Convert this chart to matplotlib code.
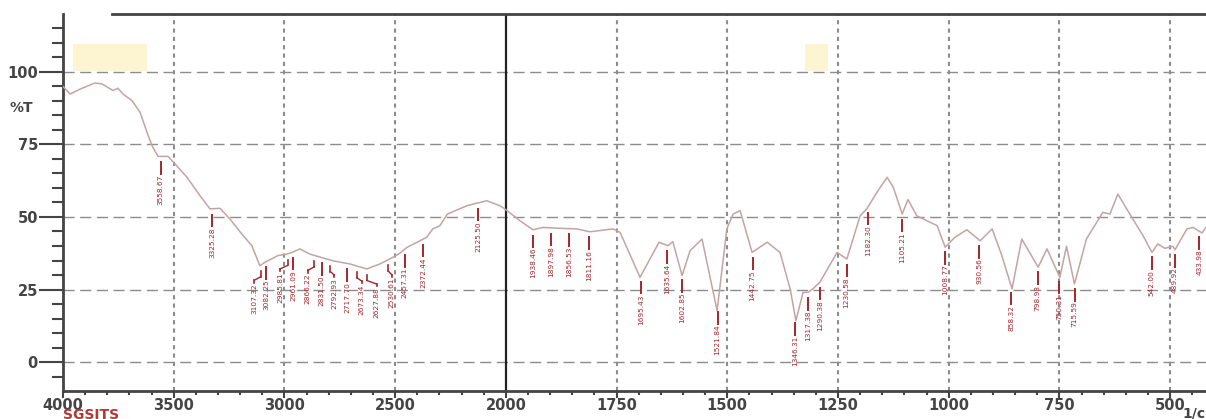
import numpy as np
import matplotlib
matplotlib.use("Agg")
import matplotlib.pyplot as plt
import matplotlib.transforms as mtrans
from matplotlib.patches import Rectangle

# spectrum (wavenumber 1/cm, %T)
wavenumber = [4000, 3968, 3923, 3856, 3824, 3774, 3752, 3729, 3688, 3652, 3621, 3598,
              3571, 3526, 3494, 3440, 3381, 3336, 3291, 3246, 3192, 3147, 3111, 3088,
              3029, 2989, 2962, 2930, 2885, 2781, 2704, 2628, 2569, 2510, 2479, 2447,
              2388, 2357, 2330, 2298, 2264, 2176, 2086, 2027, 2005, 1968, 1939, 1916,
              1878, 1840, 1810, 1758, 1742, 1697, 1654, 1634, 1623, 1602, 1584, 1557,
              1523, 1501, 1487, 1471, 1444, 1410, 1381, 1358, 1345, 1329, 1318, 1307,
              1291, 1252, 1230, 1200, 1185, 1162, 1139, 1125, 1105, 1092, 1072, 1026,
              1008, 986, 959, 929, 902, 880, 857, 835, 798, 778, 749, 734, 716, 689,
              652, 636, 618, 591, 561, 541, 528, 512, 494, 489, 462, 448, 428, 419]
transmittance = [95.0, 92.4, 94.1, 96.2, 95.9, 93.6, 94.4, 92.4, 90.1, 86.1, 79.3, 74.6,
                 70.9, 70.9, 68.3, 63.7, 57.3, 52.8, 53.0, 49.3, 44.1, 40.1, 33.2, 34.4,
                 36.7, 37.2, 37.9, 39.0, 37.2, 34.9, 33.8, 32.1, 33.8, 36.1, 37.5, 39.5,
                 41.8, 43.0, 45.9, 47.0, 51.0, 53.9, 55.6, 53.9, 52.8, 48.7, 45.6, 46.4,
                 46.1, 45.9, 44.9, 45.9, 44.7, 29.2, 41.3, 40.1, 41.5, 29.8, 38.4, 42.4,
                 17.7, 45.9, 51.0, 52.2, 37.8, 41.3, 37.8, 25.2, 14.2, 24.0, 24.0, 25.2,
                 27.5, 37.8, 35.5, 50.4, 52.8, 58.5, 63.7, 60.2, 51.0, 56.0, 50.4, 47.0,
                 39.6, 43.0, 45.6, 41.8, 45.9, 36.7, 25.2, 42.4, 32.7, 39.0, 29.2, 39.9,
                 26.9, 42.4, 51.6, 51.0, 57.9, 51.0, 43.5, 37.8, 40.7, 39.2, 39.9, 38.7,
                 45.9, 46.4, 44.5, 46.4]

peak_labels = ["3558.67", "3325.28", "3107.32", "3082.25", "2985.81", "2961.09",
               "2866.22", "2831.50", "2792.93", "2717.70", "2673.34", "2627.88",
               "2530.61", "2457.31", "2372.44", "2125.50", "1938.46", "1897.98",
               "1856.53", "1811.16", "1695.43", "1635.64", "1602.85", "1521.84",
               "1442.75", "1346.31", "1317.38", "1290.38", "1230.58", "1182.30",
               "1105.21", "1008.77", "930.56", "858.32", "798.93", "750.31",
               "715.59", "542.00", "489.92", "433.98"]

x_major = [4000, 3500, 3000, 2500, 2000, 1750, 1500, 1250, 1000, 750, 500]
y_major = [0, 25, 50, 75, 100]

# sideways shift (points) of crowded labels, drawn with a bent leader
nudge = {"3107.32": -4.5, "2985.81": -5.5, "2866.22": -4.5, "2792.93": 3,
         "2673.34": 3.5, "2627.88": 7, "2530.61": 2.5}


# x axis: 2000 1/cm compressed above, expanded below (like the instrument print)
def fwd(w):
    w = np.asarray(w, dtype=float)
    return np.where(w >= 2000, w, 2 * w - 2000)


def inv(u):
    u = np.asarray(u, dtype=float)
    return np.where(u >= 2000, u, (u + 2000) / 2)


fig = plt.figure(figsize=(12.06, 4.19), dpi=100)
ax = fig.add_axes([63 / 1206, 28 / 419, 1 - 63 / 1206, 377 / 419])
ax.set_xscale("function", functions=(fwd, inv))
ax.set_xlim(4000, 419)
ax.set_ylim(-10, 120)

grid_col = "#8c8c8c"
for y in y_major:
    ax.axhline(y, color=grid_col, lw=1, dashes=(8, 4), zorder=1)
for x in x_major[1:]:
    if x == 2000:
        ax.axvline(x, color="#222222", lw=1.6, zorder=2)
    else:
        ax.axvline(x, color=grid_col, lw=1.5, dashes=(2, 2), zorder=1)

# yellow marker boxes
ax.add_patch(Rectangle((3621, 100.3), 334, 9.4, facecolor="#fdf5d2", edgecolor="none", zorder=1))
ax.add_patch(Rectangle((1273, 100.3), 52, 9.4, facecolor="#fdf5d2", edgecolor="none", zorder=1))

ax.plot(wavenumber, transmittance, color="#c6a3a3", lw=1.1, zorder=3)

# peak labels
w_sorted = np.array(wavenumber[::-1], dtype=float)
t_sorted = np.array(transmittance[::-1], dtype=float)
lab_col = "#a3262c"
for s in peak_labels:
    w = float(s)
    top = np.interp(w, w_sorted, t_sorted) - 2
    dx = nudge.get(s, 0)
    tr = mtrans.offset_copy(ax.transData, fig=fig, x=dx, y=0, units="points")
    if dx == 0:
        ax.plot([w, w], [top, top - 4], color=lab_col, lw=1.4, zorder=4)
    else:
        ax.plot([w, w], [top, top - 2], color=lab_col, lw=1.2, zorder=4)
        ax.plot([w, w], [top - 3.2, top - 4], color=lab_col, lw=1.2, zorder=4, transform=tr)
        # diagonal piece from the peak to the shifted label
        p0 = ax.transData.transform((w, top - 2))
        p1 = tr.transform((w, top - 3.2))
        ax.plot([p0[0], p1[0]], [p0[1], p1[1]], color=lab_col, lw=1.0, zorder=4,
                transform=None)
    ax.text(w, top - 4.3, s, rotation=90, ha="center", va="top", color=lab_col,
            fontsize=5.3, family=["Liberation Sans Narrow", "DejaVu Sans"], zorder=4,
            transform=tr)

# axes frame
for side in ["top", "right"]:
    ax.spines[side].set_visible(False)
for side in ["left", "bottom"]:
    ax.spines[side].set_color("#444444")
    ax.spines[side].set_linewidth(2)
ax.plot([3779, 419], [120, 120], color="#444444", lw=2, clip_on=False, zorder=5)

x_minor = [w for w in range(3900, 2000, -100) if w not in x_major] + \
          [w for w in range(1950, 400, -50) if w not in x_major]
ax.set_xticks(x_major)
ax.set_xticks(x_minor, minor=True)
ax.set_xticklabels([str(v) for v in x_major])
ax.set_yticks(y_major)
ax.set_yticks([v for v in range(-5, 120, 5) if v not in y_major], minor=True)
ax.set_yticklabels([str(v) for v in y_major])

ax.tick_params(axis="y", which="major", length=17, width=1.5, color="#444444", pad=1,
               labelsize=10.5, labelcolor="#444444")
ax.tick_params(axis="y", which="minor", length=8, width=1.5, color="#444444")
ax.tick_params(axis="x", which="major", length=5, width=1.5, color="#444444", pad=0,
               labelsize=10.5, labelcolor="#444444")
ax.tick_params(axis="x", which="minor", length=3, width=1.5, color="#444444")
for lab in ax.get_xticklabels() + ax.get_yticklabels():
    lab.set_family("DejaVu Sans")
    lab.set_weight("bold")

fig.text(10 / 1206, 1 - 108 / 419, "%T", ha="left", va="center", fontsize=10,
         color="#444444", family="DejaVu Sans", weight="bold")
fig.text(63 / 1206, 1 - 415 / 419, "SGSITS", ha="left", va="center", fontsize=10,
         color="#b03838", family="DejaVu Sans", weight="bold")
fig.text(1182 / 1206, 1 - 413 / 419, "1/cm", ha="left", va="center", fontsize=10,
         color="#444444", family="DejaVu Sans", weight="bold")

fig.savefig("out.png", dpi=100)
